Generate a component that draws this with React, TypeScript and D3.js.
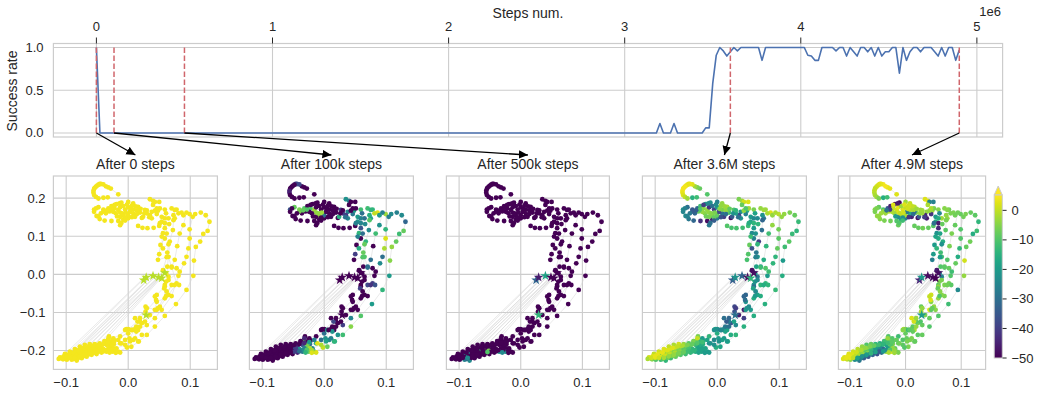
import React from "react";
import * as d3 from "d3";

// ---------- success-rate curve ----------
const stepsM = [0, 0.02, 3.18, 3.2, 3.22, 3.26, 3.28, 3.3, 3.44, 3.46, 3.48, 3.5, 3.52, 3.54, 3.56, 3.58, 3.6, 3.62, 3.64, 3.66, 3.76, 3.78, 3.8, 4.02, 4.04, 4.06, 4.08, 4.1, 4.12, 4.18, 4.2, 4.22, 4.24, 4.26, 4.28, 4.3, 4.32, 4.34, 4.36, 4.38, 4.4, 4.42, 4.44, 4.46, 4.48, 4.5, 4.52, 4.54, 4.56, 4.58, 4.6, 4.62, 4.64, 4.66, 4.68, 4.7, 4.74, 4.76, 4.78, 4.8, 4.82, 4.84, 4.86, 4.88, 4.9];
const successRate = [1, 0, 0, 0.11, 0, 0, 0.11, 0, 0, 0.06, 0.06, 0.58, 0.91, 1, 0.96, 0.9, 0.95, 1, 0.96, 1, 1, 0.85, 1, 1, 0.91, 0.9, 0.85, 0.85, 1, 1, 0.96, 1, 1, 0.9, 1, 0.95, 0.9, 1, 1, 0.95, 1, 0.9, 1, 0.9, 0.95, 0.95, 1, 1, 0.7, 1, 0.85, 0.95, 1, 1, 0.95, 1, 1, 0.95, 0.9, 1, 0.9, 1, 1, 0.85, 0.97];
const snapshotSteps = [0, 0.1, 0.5, 3.6, 4.9];
const panelTitles = ["After 0 steps", "After 100k steps", "After 500k steps", "After 3.6M steps", "After 4.9M steps"];
const topTicks = [0, 1, 2, 3, 4, 5];
const rateTicks = [0, 0.5, 1];
const scatterXTicks = [-0.1, 0, 0.1];
const scatterYTicks = [-0.2, -0.1, 0, 0.1, 0.2];
const colorTicks = [0, -10, -20, -30, -40, -50];

// ---------- scatter tracks: x, y, value after 0 / 100k / 500k / 3.6M / 4.9M steps ----------
const hook = [
  [-0.016, 0.21, 4, -50, -50, -10, 2], [-0.028, 0.225, 4, -50, -50, -8, 3], [-0.032, 0.228, 4, -50, -50, -6, 3], [-0.036, 0.231, 4, -50, -50, -3, 4], [-0.04, 0.236, 4, -38, -50, 2, 4],
  [-0.044, 0.237, 4, -38, -50, 3, 3], [-0.046, 0.237, 4, -38, -50, 3, 3], [-0.048, 0.235, 4, -50, -50, 3, 2], [-0.05, 0.233, 4, -50, -50, 3, 2], [-0.052, 0.23, 4, -50, -50, 4, 1], [-0.054, 0.227, 4, -50, -50, 4, 1], [-0.055, 0.224, 4, -50, -50, 4, 0],
  [-0.056, 0.219, 4, -45, -50, 4, 0], [-0.056, 0.214, 4, -45, -50, 3, -1], [-0.055, 0.208, 4, -50, -50, 2, -2], [-0.052, 0.203, 4, -50, -50, 0, -3],
  [-0.048, 0.199, 4, -50, -50, -3, -6], [-0.04, 0.201, 4, -50, -50, -15, -16], [-0.033, 0.202, 4, -50, -50, -12, -12],
];
const upperBand = [
  [-0.055, 0.17, 4, -35, -50, -22, -5], [-0.048, 0.176, 4, -8, -50, -30, -8], [-0.04, 0.17, 4, -6, -50, -35, -10], [-0.032, 0.173, 4, -10, -50, -32, -35],
  [-0.027, 0.179, 4, -50, -50, -12, -45], [-0.019, 0.184, 4, -50, -50, -20, -48], [-0.011, 0.188, 4, -50, -50, -22, -50], [0, 0.19, 4, -50, -50, -26, -3],
  [0.008, 0.186, 4, -50, -50, -4, 0], [0.016, 0.177, 4, -50, -50, -2, -1], [0.027, 0.169, 4, -40, -50, -10, -3], [0.038, 0.164, 4, -25, -50, -22, -4],
  [0.048, 0.167, 4, -18, -50, -16, -3], [0.059, 0.17, 4, -12, -50, -6, -5], [0.07, 0.173, 4, -12, -50, -4, -5], [0.078, 0.17, 4, -14, -50, -3, -7],
  [0.086, 0.162, 4, 2, -50, 2, -6], [0.099, 0.158, 4, -3, -50, -1, -8],
];
const lowerBand = [
  [-0.052, 0.173, 4, -50, -50, -26, -6], [-0.055, 0.164, 4, -50, -50, -25, -6], [-0.051, 0.153, 4, -50, -50, -24, -4], [-0.046, 0.145, 4, -50, -50, -28, -5],
  [-0.038, 0.141, 4, -50, -50, -32, -6], [-0.027, 0.14, 4, -50, -50, -42, -7], [-0.016, 0.14, 4, -50, -50, -48, -10], [-0.008, 0.144, 4, -50, -50, -44, -18],
  [0, 0.147, 4, -50, -50, -28, -26], [0.011, 0.151, 4, -50, -50, -40, -45], [0.022, 0.148, 4, -50, -50, -48, -48], [0.035, 0.155, 4, -40, -50, -38, -44],
  [0.046, 0.158, 4, -28, -50, -26, -42], [0.054, 0.151, 4, -20, -50, -20, -20], [0.065, 0.147, 4, -30, -50, -24, -3], [0.075, 0.147, 4, -18, -50, -28, -4],
];
const innerBand = [
  [-0.022, 0.173, 4, -10, -50, -5, 0], [-0.016, 0.169, 4, -3, -50, -4, 1], [-0.013, 0.162, 4, -4, -50, -4, 2], [-0.008, 0.155, 4, -3, -50, -6, 0],
  [0, 0.155, 4, -30, -50, -8, -2], [0.008, 0.16, 4, -50, -50, -30, -16], [0.019, 0.162, 4, -50, -50, -12, -6], [0.03, 0.16, 4, -40, -50, -18, -3],
  [0.043, 0.167, 4, -50, -50, -4, -4], [0.051, 0.173, 4, -50, -50, -3, -6], [0.038, 0.147, 4, -25, -50, -22, -46], [0.024, 0.151, 4, -15, -50, -35, -35],
];
const denseSwirl = [
  [-0.022, 0.182, 4, -50, -50, -40, 2], [-0.013, 0.176, 4, -50, -50, -42, 3], [-0.005, 0.17, 4, -50, -50, -40, 2], [0.003, 0.164, 4, -50, -50, -38, -28],
  [-0.008, 0.179, 4, -50, -50, -30, -3], [0, 0.176, 4, -50, -50, -20, 0], [0.008, 0.17, 4, -50, -50, -6, -1], [0.016, 0.164, 4, -50, -50, -8, -30],
  [-0.013, 0.151, 4, -50, -50, -6, -24], [-0.005, 0.149, 4, -50, -50, -8, -22], [-0.02, 0.16, 4, -50, -50, -5, -3], [-0.024, 0.164, 4, -50, -50, -4, -2],
];
const swirlExtra = [
  [-0.03, 0.165, 4, -50, -50, -8, -2], [-0.036, 0.16, 4, -50, -50, -32, -3], [-0.04, 0.165, 4, -6, -50, -34, -4], [-0.044, 0.16, 4, -50, -50, -28, -3],
  [-0.048, 0.152, 4, -50, -50, -26, -4], [-0.018, 0.152, 4, -50, -50, -7, -20], [-0.01, 0.16, 4, -4, -50, -5, 0], [-0.004, 0.162, 4, -3, -50, -6, 1],
  [0.004, 0.172, 4, -50, -50, -5, 1], [0.012, 0.178, 4, -50, -50, -3, 0], [0.006, 0.18, 4, -50, -50, -4, 1], [0.014, 0.168, 4, -50, -50, -4, -2],
  [0.02, 0.172, 4, -50, -50, -8, -3], [0.026, 0.16, 4, -50, -50, -22, -4], [-0.002, 0.183, 4, -50, -50, -24, 2], [-0.014, 0.186, 4, -50, -50, -24, -46],
  [-0.028, 0.17, 4, -10, -50, -10, -40], [-0.034, 0.168, 4, -8, -50, -34, -30], [0.03, 0.168, 4, -50, -50, -14, -3], [0.034, 0.15, 4, -30, -50, -30, -40],
  [0.006, 0.15, 4, -50, -50, -36, -42], [0.014, 0.158, 4, -50, -50, -30, -30],
];
const belowBand = [
  [-0.013, 0.129, 4, -50, -50, -28, -8], [-0.011, 0.135, 4, -50, -50, -30, -10], [-0.005, 0.141, 4, -50, -50, -34, -12], [0.016, 0.127, 4, -50, -50, -10, -8],
  [0.023, 0.122, 4, -50, -50, -11, -8], [0.031, 0.121, 4, -50, -50, -11, -7], [0.041, 0.122, 4, -50, -50, -12, -8], [0.05, 0.127, 4, -50, -50, -12, -10],
  [0.054, 0.138, 4, -22, -50, -18, -16], [0.059, 0.134, 4, -25, -50, -14, -46],
];
const shortTop = [
  [0.035, 0.197, 4, -22, -50, -6, 2], [0.04, 0.193, 4, -26, -50, -3, 3], [0.043, 0.19, 4, -50, -50, 1, -25], [0.05, 0.19, 4, -50, -50, 2, -26],
  [0.04, 0.182, 4, -50, -50, -8, -2], [0.046, 0.173, 4, -50, -50, -10, -2],
];
const rightBand = [
  [0.089, 0.155, 4, -20, -50, -4, -7], [0.081, 0.16, 4, 0, -50, -2, -6], [0.073, 0.155, 4, -16, -50, -22, -4], [0.059, 0.147, 4, -26, -50, -24, -16],
  [0.051, 0.134, 4, -26, -50, -16, -30], [0.059, 0.121, 4, -36, -50, -20, -44], [0.056, 0.108, 4, -14, -50, -24, -22], [0.066, 0.132, 4, -24, -50, -14, -8],
];
const outerTrack = [
  [0.117, 0.162, 4, -26, -50, -6, -8], [0.125, 0.155, 4, -24, -50, -8, -9], [0.131, 0.138, 4, -32, -50, -13, -14], [0.128, 0.114, 4, -8, -50, -14, -12],
  [0.121, 0.106, 4, -12, -50, -13, -16], [0.116, 0.086, 4, -8, -50, -9, -7], [0.109, 0.072, 4, -4, -50, -12, -8], [0.106, 0.036, 4, -5, -50, -20, 1],
  [0.105, -0.004, 4, -20, -50, -16, -4], [0.094, -0.041, 4, -14, -50, -13, -24], [0.077, -0.078, 4, -20, -50, -15, -12], [0.059, -0.109, 4, -10, -50, -16, -10],
  [0.043, -0.137, 4, -5, -50, -15, -10], [0.03, -0.159, 4, -12, -50, -14, -8], [0.017, -0.176, 4, -16, -50, -16, -8], [0.005, -0.19, 4, -8, -50, -18, -6],
  [-0.002, -0.192, 4, 0, -50, -16, -10], [-0.016, -0.203, 4, -14, -50, -20, -9],
];
const secondTrack = [
  [0.108, 0.158, 4, -24, -50, -4, -6], [0.104, 0.151, 4, -26, -50, -4, -7], [0.099, 0.118, 4, -14, -50, -7, -10], [0.099, 0.094, 4, 2, -50, -9, -10],
  [0.097, 0.068, 4, -2, -50, -8, -14], [0.094, 0.046, 4, -30, -50, -14, -16], [0.09, 0.029, 4, -24, -50, -14, -8], [0.081, -0.004, 4, -50, -50, -20, -10],
  [0.07, -0.057, 4, -50, -50, -16, -6], [0.054, -0.093, 4, -50, -50, -20, -5], [0.043, -0.115, 4, -25, -50, -40, -8], [0.03, -0.133, 4, -40, -50, -24, -8],
  [0.016, -0.146, 4, -50, -50, -18, -2], [0.008, -0.172, 4, -24, -50, -18, -6], [-0.005, -0.185, 4, -2, -50, -22, -9], [-0.019, -0.194, 4, -25, -50, -18, -8],
];
const thirdTrack = [
  [0.094, 0.162, 4, -26, -50, -2, -7], [0.089, 0.129, 4, -22, -50, -4, -8], [0.083, 0.107, 4, -12, -50, -12, -6], [0.079, 0.074, 4, -50, -50, -14, -6],
  [0.075, 0.038, 4, -30, -50, -16, -10], [0.07, 0.02, 4, -30, -50, -18, -8], [0.078, -0.024, 4, -40, -50, -14, -7], [0.065, -0.054, 4, -50, -50, -18, -5],
  [0.051, -0.085, 4, -50, -50, -24, -4], [0.035, -0.107, 4, -50, -50, -46, -6], [0.022, -0.128, 4, -50, -50, -36, -7], [0.011, -0.144, 4, -50, -50, -22, -6],
  [0.002, -0.168, 4, -22, -50, -20, -8], [-0.013, -0.181, 4, -16, -50, -24, -8], [-0.027, -0.19, 4, -8, -50, -18, -9],
];
const fourthTrack = [
  [0.075, 0.169, 4, -14, -50, -3, -5], [0.073, 0.142, 4, -10, -50, -32, -6], [0.072, 0.116, 4, -24, -50, -30, -9], [0.067, 0.086, 4, -14, -50, -40, -16],
  [0.065, 0.046, 4, -10, -50, -22, -12], [0.063, 0.02, 4, -50, -50, -18, -10], [0.065, -0.006, 4, -50, -50, -28, -26], [0.059, -0.028, 4, -50, -50, -22, -10],
  [0.059, -0.063, 4, -50, -50, -16, -4], [0.046, -0.072, 4, -50, -50, -22, -5], [0.043, -0.093, 4, -50, -50, -46, 2], [0.028, -0.085, 4, -50, -50, -38, -8],
  [0.019, -0.124, 4, -50, -50, -26, -9], [0.013, -0.137, 4, -50, -50, -28, -9], [-0.003, -0.144, 4, -50, -50, -18, 0], [0, -0.155, 4, -30, -50, -16, -8],
  [-0.013, -0.163, 4, -50, -50, -14, -12], [-0.022, -0.174, 4, -50, -50, -16, -8], [-0.032, -0.172, 4, -6, -50, -8, -6],
];
const fifthTrack = [
  [0.061, 0.16, 4, -30, -50, -18, -24], [0.062, 0.107, 4, -30, -50, -22, -18], [0.059, 0.094, 4, -50, -50, -26, -16], [0.052, 0.077, 4, -50, -50, -8, -20],
  [0.05, 0.053, 4, -40, -50, -10, -20], [0.048, 0.038, 4, -50, -50, -11, -26], [0.062, 0.045, 4, -10, -50, -26, -20], [0.056, 0.011, 4, -50, -50, -48, -46],
  [0.061, 0.003, 4, -50, -50, -20, -26], [0.065, -0.015, 4, -50, -50, -24, -6], [0.059, -0.032, 4, -50, -50, -30, -4], [0.046, -0.054, 4, -50, -50, -32, 1],
  [0.045, -0.067, 4, -50, -50, -30, 2], [0.028, -0.098, 4, -50, -50, -36, -2], [0.011, -0.115, 4, -50, -50, -30, 2], [0.015, -0.124, 4, -38, -50, -34, 1],
  [0, -0.144, 4, -50, -50, -22, -6], [-0.024, -0.168, 4, -50, -50, -20, -10],
];
const middleTrack = [
  [0.054, 0.099, 4, -26, -50, -12, -18], [0.056, 0.068, 4, -16, -50, -36, -14], [0.065, 0.079, 4, -8, -50, -14, -22], [0.063, 0.057, 4, -8, -50, -28, -12],
  [0.07, 0.018, 4, -30, -50, -12, -9], [0.078, 0.016, 4, -50, -50, -10, -8], [0.083, 0.007, 4, -50, -50, -12, -12], [0.061, -0.019, 4, -50, -50, -22, -6],
  [0.058, -0.037, 4, -40, -50, -18, -8], [0.061, -0.057, 4, -50, -50, -20, -10], [0.07, -0.028, 4, -38, -50, -14, -6], [0.046, -0.093, 4, -50, -50, -20, -9],
  [0.019, -0.137, 4, -50, -50, -30, -4], [0.005, -0.146, 4, -20, -50, -26, -14], [-0.03, -0.185, 4, -10, -50, -18, -6],
];
const lowerMiddle = [
  [0.082, -0.028, 4, -36, -50, -14, -9], [0.075, -0.028, 4, -42, -50, -16, -7], [0.062, -0.045, 4, -50, -50, -24, -5], [0.048, -0.089, 4, -50, -50, -22, -8],
  [0.043, -0.058, 4, -50, -50, -32, 0], [0.03, -0.089, 4, -50, -50, -40, -4], [0.027, -0.124, 4, -50, -50, -18, -10], [0.019, -0.115, 4, -50, -50, -32, -3],
  [0.022, -0.159, 4, -22, -50, -16, -9], [0.013, -0.15, 4, -22, -50, -18, -8], [0.007, -0.146, 4, -50, -50, -24, -9], [-0.005, -0.146, 4, -50, -50, -22, -5],
  [0.016, -0.176, 4, -14, -50, -20, -8], [0.011, -0.168, 4, -26, -50, -20, -6], [0.003, -0.176, 4, -18, -50, -22, -6], [-0.005, -0.172, 4, -30, -50, -24, -10],
  [-0.011, -0.181, 4, 2, -50, -22, -7], [-0.016, -0.172, 4, -26, -50, -18, -8], [-0.023, -0.183, 4, -30, -50, -16, -6], [-0.027, -0.176, 4, -50, -50, -14, -8],
  [-0.031, -0.163, 4, -50, -50, -6, -10], [-0.038, -0.176, 4, -50, -50, -10, -14],
];
const fanTop = [
  [-0.11, -0.218, 4, -50, -50, 1, 2], [-0.102, -0.209, 4, -50, -50, 0, 2], [-0.094, -0.203, 4, -50, -50, 1, 1], [-0.086, -0.196, 4, -50, -50, 2, -1],
  [-0.078, -0.19, 4, -50, -50, 0, -4], [-0.07, -0.185, 4, -50, -50, -2, -10], [-0.062, -0.183, 4, -50, -50, 1, -8], [-0.054, -0.183, 4, -50, -50, -4, -14],
  [-0.046, -0.181, 4, -50, -50, -10, -16], [-0.038, -0.175, 4, -50, -50, -6, -12], [-0.032, -0.168, 4, -44, -50, 0, -4],
];
const fanSecond = [
  [-0.108, -0.22, 4, -50, -50, 2, 2], [-0.099, -0.214, 4, -50, -50, 3, 3], [-0.091, -0.209, 4, -50, -50, 3, 1], [-0.083, -0.203, 4, -50, -50, 2, 0],
  [-0.075, -0.198, 4, -50, -50, 2, -3], [-0.067, -0.194, 4, -50, -50, 1, -4], [-0.059, -0.191, 4, -50, -50, -1, -8], [-0.051, -0.19, 4, -50, -50, -5, -14],
  [-0.043, -0.188, 4, -44, -50, -8, -16], [-0.035, -0.185, 4, -36, -50, -12, -18], [-0.027, -0.185, 4, -6, -50, -16, -10],
];
const fanThird = [
  [-0.105, -0.223, 4, -50, -50, -5, 0], [-0.097, -0.22, 4, -50, -50, -3, 2], [-0.089, -0.216, 4, -50, -50, 0, 0], [-0.081, -0.211, 4, -50, -50, 1, -4],
  [-0.073, -0.207, 4, -50, -50, -1, -6], [-0.065, -0.203, 4, -50, -12, -4, -10], [-0.056, -0.2, 4, -50, -8, -8, -24], [-0.048, -0.198, 4, -30, -14, -10, -30],
  [-0.04, -0.196, 4, -22, -50, -14, -32], [-0.032, -0.194, 4, -26, -50, -18, -20], [-0.023, -0.194, 4, -2, -50, -18, -4],
];
const fanFourth = [
  [-0.099, -0.224, 4, -50, -50, -10, -4], [-0.091, -0.224, 4, -50, -26, -12, -24], [-0.083, -0.226, 4, -50, -24, -14, -28], [-0.075, -0.22, 4, -50, -50, -12, -34],
  [-0.067, -0.216, 4, -50, -50, -8, -36], [-0.059, -0.211, 4, -50, -50, -10, -32], [-0.051, -0.209, 4, -50, -50, -12, -36], [-0.043, -0.205, 4, -44, -50, -14, -30],
  [-0.035, -0.203, 4, -28, -22, -16, -4], [-0.025, -0.203, 4, -8, -24, -18, 2], [-0.013, -0.205, 4, 2, -50, -20, -6],
];
const fanFifth = [
  [-0.094, -0.214, 4, -50, -24, -8, -2], [-0.086, -0.209, 4, -50, -22, -4, -4], [-0.078, -0.205, 4, -50, -50, -2, -6], [-0.07, -0.203, 4, -50, -50, -5, -10],
  [-0.062, -0.198, 4, -50, -50, -6, -12], [-0.054, -0.196, 4, -50, -50, -9, -20], [-0.046, -0.194, 4, -40, -50, -11, -24],
];
const fanSixth = [
  [-0.104, -0.215, 4, -50, -50, 2, 3], [-0.096, -0.21, 4, -50, -50, 3, 2], [-0.088, -0.205, 4, -50, -50, 3, 1], [-0.08, -0.199, 4, -50, -50, 2, -2],
  [-0.072, -0.193, 4, -50, -50, 2, -4], [-0.064, -0.189, 4, -50, -50, 0, -6], [-0.056, -0.187, 4, -50, -50, -2, -8], [-0.048, -0.185, 4, -50, -50, -6, -12],
  [-0.04, -0.183, 4, -50, -50, -8, -14], [-0.032, -0.18, 4, -44, -50, -10, -12], [-0.024, -0.178, 4, -20, -50, -12, -9],
];
const fanSeventh = [
  [-0.1, -0.219, 4, -50, -50, 1, 3], [-0.092, -0.217, 4, -50, -50, 2, 0], [-0.084, -0.214, 4, -50, -50, 1, -2], [-0.076, -0.21, 4, -50, -50, 0, -4],
  [-0.068, -0.206, 4, -50, -50, -2, -6], [-0.06, -0.203, 4, -50, -50, -5, -14], [-0.052, -0.201, 4, -50, -6, -8, -20], [-0.044, -0.201, 4, -40, -50, -12, -28],
  [-0.036, -0.199, 4, -24, -50, -14, -24], [-0.028, -0.198, 4, -10, -50, -18, -10], [-0.02, -0.199, 4, -2, -50, -18, -4],
];
const fanEighth = [
  [-0.088, -0.222, 4, -50, -30, -10, -22], [-0.08, -0.219, 4, -50, -50, -8, -26], [-0.072, -0.214, 4, -50, -50, -6, -30], [-0.064, -0.21, 4, -50, -50, -7, -30],
  [-0.056, -0.206, 4, -50, -50, -9, -34], [-0.048, -0.203, 4, -40, -50, -12, -34], [-0.04, -0.202, 4, -30, -50, -14, -20], [-0.03, -0.205, 4, -14, -24, -18, -2],
  [-0.02, -0.206, 4, 2, -50, -20, -3],
];
const fanNinth = [
  [-0.112, -0.222, 4, -50, -50, -2, 2], [-0.106, -0.219, 4, -50, -50, 1, 3], [-0.1, -0.216, 4, -50, -50, 3, 3], [-0.094, -0.219, 4, -50, -50, 1, 0],
  [-0.086, -0.219, 4, -50, -24, -2, -18], [-0.078, -0.215, 4, -50, -50, -4, -22], [-0.07, -0.211, 4, -50, -50, -4, -20], [-0.062, -0.207, 4, -50, -50, -6, -14],
  [-0.054, -0.204, 4, -50, -10, -8, -18],
];
const starTrack = [
  [0.025, -0.015, -1, -50, -32, -34, -44], [0.029, -0.008, -1, -50, -46, -22, -20], [0.04, -0.004, -1, -50, -18, -32, -48], [0.049, -0.008, -1, -50, -50, -48, -48],
  [0.054, -0.01, -1, -50, -50, -14, -50], [0.059, 0.004, -1, -50, -50, -48, -48], [0.029, -0.107, -1, -50, -14, -30, -20],
];
const jumpFrom = [[-0.102, -0.209], [-0.094, -0.203], [-0.086, -0.196], [-0.078, -0.19], [-0.07, -0.185], [-0.062, -0.183], [-0.054, -0.183], [-0.046, -0.181], [-0.038, -0.175], [-0.059, -0.191], [-0.067, -0.194], [-0.075, -0.198], [-0.083, -0.203], [-0.091, -0.209]];
const jumpTo = [[0.025, -0.01], [0.03, -0.004], [0.04, -0.002], [0.045, -0.004], [0.05, -0.006], [0.052, -0.004], [0.055, -0.002], [0.058, 0.002], [0.06, 0.003], [0.05, -0.01], [0.047, -0.008], [0.043, -0.006], [0.036, -0.008], [0.032, -0.012]];

const tracks = [hook, upperBand, lowerBand, innerBand, denseSwirl, swirlExtra, belowBand, shortTop, rightBand, outerTrack, secondTrack, thirdTrack, fourthTrack, fifthTrack, middleTrack, lowerMiddle, fanTop, fanSecond, fanThird, fanFourth, fanFifth, fanSixth, fanSeventh, fanEighth, fanNinth];
const linkedTracks = [hook, outerTrack, secondTrack, thirdTrack, fourthTrack, fifthTrack, middleTrack];

// ---------- layout ----------
const W = 1041, H = 398;
const FONT = "'Liberation Sans', Arial, sans-serif";
const INK = "#262626", GRID = "#cccccc";
const panelLeft = [53.4, 249.4, 446.4, 642.4, 838.4];
const panelRight = [217.4, 413.4, 609.4, 806.4, 985.6];
const panelTop = 176, panelBottom = 369.4;
const xDomain: [number, number] = [-0.1206, 0.1438];
const yDomain: [number, number] = [-0.2494, 0.258];
const TICK = 13;
const fmt = (v: number) => (v < 0 ? "\u2212" : "") + Math.abs(v).toFixed(1);

const topX = d3.scaleLinear().domain([-0.2442, 5.146]).range([53.4, 1002.6]);
const topY = d3.scaleLinear().domain([-0.047, 1.047]).range([137, 43.5]);
const colorT = d3.scaleLinear().domain([-50, 5]).range([0, 1]).clamp(true);
const colorOf = (v: number) => d3.interpolateViridis(colorT(v));
const cbY = d3.scaleLinear().domain([-50, 5.2]).range([358, 195]);
const stars = d3.symbol().type(d3.symbolStar).size(30)() as string;

function Panel({ index }: { index: number }) {
  const x = d3.scaleLinear().domain(xDomain).range([panelLeft[index], panelRight[index]]);
  const y = d3.scaleLinear().domain(yDomain).range([panelBottom, panelTop]);
  const path = d3.line<number[]>().x((d) => x(d[0])).y((d) => y(d[1]));
  const col = index + 2;
  return (
    <g>
      {scatterXTicks.map((t) => <line key={t} x1={x(t)} x2={x(t)} y1={panelTop} y2={panelBottom} stroke={GRID} strokeWidth={1.1} />)}
      {scatterYTicks.map((t) => <line key={t} x1={panelLeft[index]} x2={panelRight[index]} y1={y(t)} y2={y(t)} stroke={GRID} strokeWidth={1.1} />)}
      <rect x={panelLeft[index]} y={panelTop} width={panelRight[index] - panelLeft[index]} height={panelBottom - panelTop} fill="none" stroke={GRID} strokeWidth={1.2} />
      {linkedTracks.map((t, i) => <path key={i} d={path(t) as string} fill="none" stroke="#d4d4d4" strokeWidth={0.5} />)}
      {jumpFrom.map((p, i) => <line key={i} x1={x(p[0])} y1={y(p[1])} x2={x(jumpTo[i][0])} y2={y(jumpTo[i][1])} stroke="#d4d4d4" strokeWidth={0.5} />)}
      {tracks.map((t, i) => t.map((p, j) => <circle key={i + "-" + j} cx={x(p[0])} cy={y(p[1])} r={2.4} fill={colorOf(p[col])} />))}
      {starTrack.map((p, i) => <path key={i} d={stars} transform={`translate(${x(p[0])},${y(p[1])})`} fill={colorOf(p[col])} />)}
      {scatterXTicks.map((t) => <text key={t} x={x(t)} y={387} textAnchor="middle" fontSize={TICK} fill={INK}>{fmt(t)}</text>)}
      {index === 0 && scatterYTicks.map((t) => <text key={t} x={45.5} y={y(t) + 4.5} textAnchor="end" fontSize={TICK} fill={INK}>{fmt(t)}</text>)}
      <text x={(panelLeft[index] + panelRight[index]) / 2} y={169} textAnchor="middle" fontSize={14} fill={INK}>{panelTitles[index]}</text>
    </g>
  );
}

export default function App() {
  const linePath = d3.line<number>().x((d) => topX(d)).y((_, i) => topY(successRate[i]))(stepsM) as string;
  return (
    <svg width={W} height={H} viewBox={`0 0 ${W} ${H}`} style={{ position: "absolute", left: 0, top: 0, display: "block", background: "#fff" }} fontFamily={FONT}>
      <defs>
        <marker id="head" markerUnits="userSpaceOnUse" markerWidth={10} markerHeight={9} refX={9} refY={4.5} orient="auto">
          <path d="M0,0.2 L9,4.5 L0,8.8 Z" fill="#000" />
        </marker>
        <linearGradient id="viridis" x1="0" y1="1" x2="0" y2="0">
          {d3.range(0, 1.001, 0.05).map((t) => <stop key={t} offset={t} stopColor={d3.interpolateViridis(t)} />)}
        </linearGradient>
      </defs>
      {/* top chart */}
      {topTicks.map((t) => <line key={t} x1={topX(t)} x2={topX(t)} y1={43.5} y2={137} stroke={GRID} strokeWidth={1.1} />)}
      {rateTicks.map((t) => <line key={t} x1={53.4} x2={1002.6} y1={topY(t)} y2={topY(t)} stroke={GRID} strokeWidth={1.1} />)}
      <rect x={53.4} y={43.5} width={949.2} height={93.5} fill="none" stroke={GRID} strokeWidth={1.2} />
      {topTicks.map((t) => <line key={t} x1={topX(t)} x2={topX(t)} y1={37.5} y2={43.5} stroke={INK} strokeWidth={1} />)}
      {topTicks.map((t) => <text key={t} x={topX(t)} y={31} textAnchor="middle" fontSize={TICK} fill={INK}>{t}</text>)}
      {rateTicks.map((t) => <text key={t} x={43.6} y={topY(t) + 4.5} textAnchor="end" fontSize={TICK} fill={INK}>{t.toFixed(1)}</text>)}
      <text x={528} y={18} textAnchor="middle" fontSize={14} fill={INK}>Steps num.</text>
      <text x={1001} y={16} textAnchor="end" fontSize={TICK} fill={INK}>1e6</text>
      <text transform="translate(17,91) rotate(-90)" textAnchor="middle" fontSize={14} fill={INK}>Success rate</text>
      <path d={linePath} fill="none" stroke="#4c72b0" strokeWidth={1.6} strokeLinejoin="round" />
      {snapshotSteps.map((s) => <line key={s} x1={topX(s)} x2={topX(s)} y1={topY(0)} y2={topY(1)} stroke="#d0666c" strokeWidth={1.5} strokeDasharray="5.5,2.5" />)}
      {snapshotSteps.map((s, i) => <line key={s} x1={topX(s)} y1={topY(0)} x2={(panelLeft[i] + panelRight[i]) / 2} y2={155} stroke="#000" strokeWidth={1.3} markerEnd="url(#head)" />)}
      {panelLeft.map((_, i) => <Panel key={i} index={i} />)}
      {/* colour bar */}
      <path d={`M994.2,${cbY(5.2)} L998.2,186 L1002.3,${cbY(5.2)} Z`} fill={d3.interpolateViridis(1)} stroke={GRID} strokeWidth={1} />
      <rect x={994.2} y={cbY(5.2)} width={8.1} height={cbY(-50) - cbY(5.2)} fill="url(#viridis)" stroke={GRID} strokeWidth={1} />
      {colorTicks.map((t) => <line key={t} x1={1002.6} x2={1006.6} y1={cbY(t)} y2={cbY(t)} stroke={INK} strokeWidth={1} />)}
      {colorTicks.map((t) => <text key={t} x={1011.5} y={cbY(t) + 4.5} fontSize={TICK} fill={INK}>{t < 0 ? "\u2212" + -t : t}</text>)}
    </svg>
  );
}
